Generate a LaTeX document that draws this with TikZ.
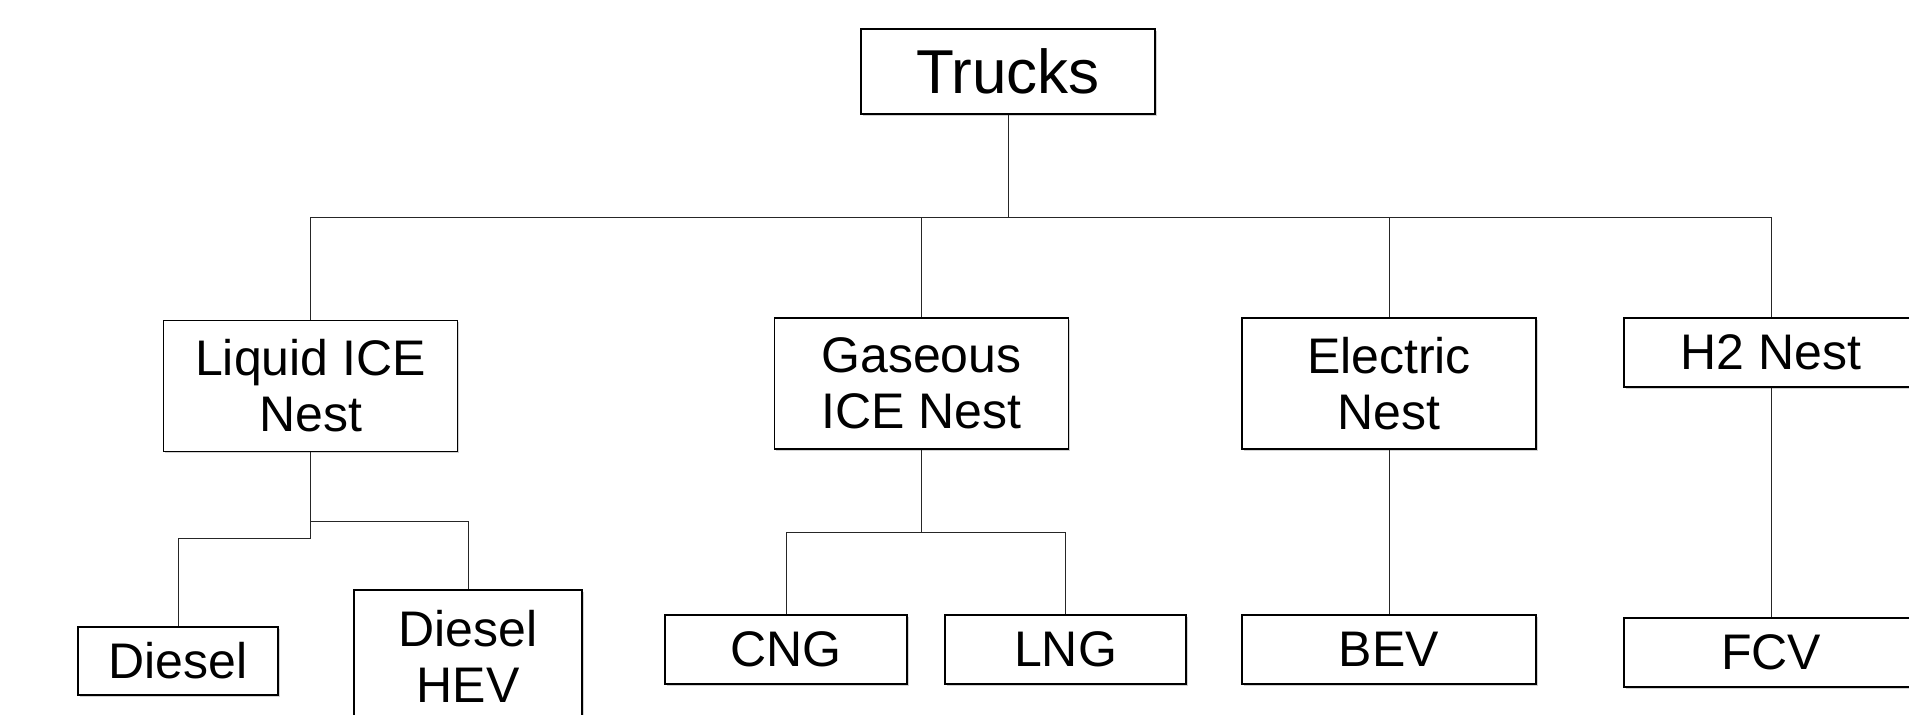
\documentclass[tikz,border=0pt]{standalone}
\usepackage{fontspec}
\setmainfont{Liberation Sans}
\usetikzlibrary{positioning,shadows}

\begin{document}
\begin{tikzpicture}[
    x=0.5pt, y=-0.5pt,
    % Box styles
    rootblock/.style={
        rectangle,
        draw=black,
        line width=0.7pt,
        fill=white,
        inner sep=0pt,
        minimum width=147pt,
        minimum height=42.5pt,
        align=center,
        font=\fontsize{31}{34}\selectfont,
        drop shadow={shadow xshift=0.8pt, shadow yshift=-0.8pt, fill=black!35}
    },
    nestblock/.style={
        rectangle,
        draw=black,
        line width=0.7pt,
        fill=white,
        inner sep=0pt,
        minimum width=147pt,
        minimum height=65.5pt,
        align=center,
        font=\fontsize{25}{28}\selectfont,
        drop shadow={shadow xshift=0.8pt, shadow yshift=-0.8pt, fill=black!35}
    },
    leafblock/.style={
        nestblock,
        minimum height=34.5pt
    },
    line/.style={draw=black!85, line width=0.5pt}
]

\useasboundingbox (0,0) rectangle (1909,714);
\clip (0,0) rectangle (1909,714);

% Top level
\node[rootblock] (trucks) at (1008,71.5) {Trucks};

% Nest level
\node[nestblock] (liquid) at (310.5,386) {Liquid ICE\\Nest};
\node[nestblock] (gaseous) at (921.5,383.5) {Gaseous\\ICE Nest};
\node[nestblock] (electric) at (1389,383.5) {Electric\\Nest};
\node[leafblock] (h2) at (1771,352.5) {H2 Nest};

% Vehicle level
\node[leafblock, minimum width=100pt, minimum height=34pt] (diesel) at (178,661) {Diesel};
\node[nestblock, minimum width=114pt, minimum height=66pt] (hev) at (468,656) {Diesel\\HEV};
\node[leafblock, minimum width=121pt] (cng) at (786,649.5) {CNG};
\node[leafblock, minimum width=120.5pt] (lng) at (1065.5,649.5) {LNG};
\node[leafblock] (bev) at (1389,649.5) {BEV};
\node[leafblock] (fcv) at (1771,652.5) {FCV};

% Junction points
\coordinate (bus) at (1008,217);
\coordinate (liqA) at (310.5,521);
\coordinate (liqB) at (310.5,538);
\coordinate (gasjoin) at (921.5,532);

% Connections
\draw[line] (trucks) -- (bus);
\foreach \n in {liquid,gaseous,electric,h2}
    \draw[line] (bus) -| (\n.north);

\draw[line] (liquid) -- (liqB) -| (diesel.north);
\draw[line] (liqA) -| (hev.north);

\draw[line] (gaseous) -- (gasjoin) -| (cng.north);
\draw[line] (gasjoin) -| (lng.north);

\draw[line] (electric) -- (bev);
\draw[line] (h2) -- (fcv);

\end{tikzpicture}
\end{document}
